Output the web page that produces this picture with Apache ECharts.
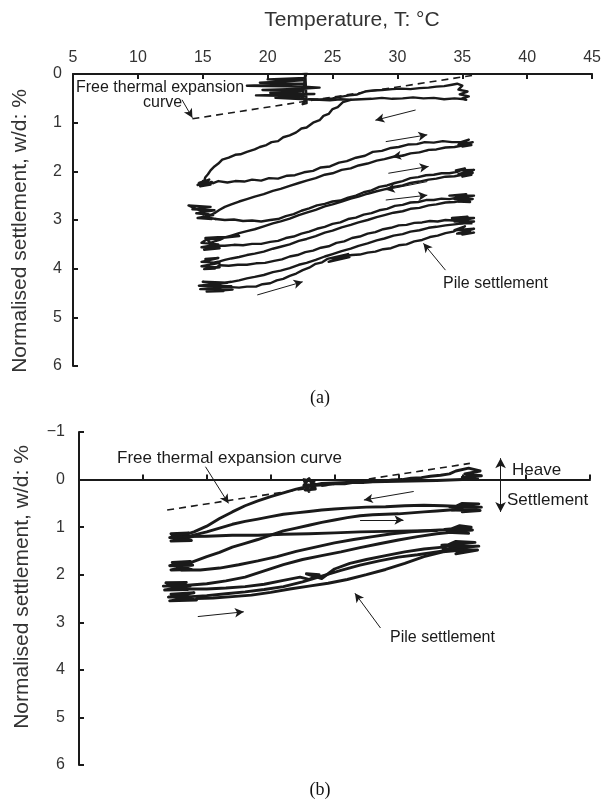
<!DOCTYPE html>
<html>
<head>
<meta charset="utf-8">
<script src="https://cdn.jsdelivr.net/npm/echarts@6/dist/echarts.min.js"></script>
<style>
  html, body { margin: 0; padding: 0; background: #fff; }
  #chart { width: 604px; height: 804px; }
</style>
</head>
<body>
<div id="chart"></div>
<script>
// Temperature axis ticks (°C) and settlement axis ranges (w/d, %)
const tempTicks = [5, 10, 15, 20, 25, 30, 35, 40, 45];
const settleRangeA = [0, 6];
const settleRangeB = [-1, 6];

// ---------- Panel (a): thermal cycles, settlement w/d (%) vs T (°C) ----------
const aStart = [[22.7,-0.06],[23.0,-0.04],[22.9,0.08],[20.0,0.11],[22.7,0.13],[19.4,0.18],[22.9,0.2],[18.4,0.24],[22.8,0.26],[24.0,0.28],[22.8,0.3],[19.6,0.33],[22.6,0.35],[20.2,0.39],[23.6,0.41],[19.1,0.44],[22.8,0.46],[20.6,0.49],[22.9,0.52],[22.7,0.62],[23.0,0.6],[22.9,-0.02],[22.7,0.5],[23.1,0.52]];
const aHeat1 = [[23.2,0.52],[24.0,0.53],[25.0,0.5],[25.6,0.47],[26.3,0.44],[26.9,0.42],[27.5,0.36],[28.1,0.34],[28.8,0.33],[29.6,0.31],[30.3,0.3],[31.0,0.31],[31.7,0.29],[32.4,0.28],[33.0,0.26],[33.6,0.25],[34.2,0.22],[34.6,0.2],[35.0,0.24],[34.7,0.32],[35.4,0.36],[34.8,0.42],[35.5,0.46],[35.0,0.5],[35.3,0.53]];
const aCool1 = [[35.2,0.52],[34.4,0.5],[33.6,0.52],[32.8,0.49],[32.0,0.5],[31.2,0.48],[30.4,0.5],[29.6,0.51],[28.8,0.49],[28.0,0.51],[27.2,0.52],[26.4,0.53],[25.8,0.58],[25.4,0.68],[25.0,0.72],[24.7,0.82],[24.3,0.86],[24.0,0.95],[23.5,1.0],[23.0,1.1],[22.6,1.12],[22.2,1.2],[21.7,1.26],[21.2,1.3],[20.8,1.38],[20.3,1.4],[19.9,1.46],[19.4,1.5],[19.0,1.55],[18.4,1.6],[17.9,1.65],[17.5,1.66],[17.0,1.72],[16.5,1.76],[16.2,1.84],[15.9,1.9],[15.6,1.98],[15.4,2.06],[15.2,2.12],[15.1,2.2],[14.7,2.24],[15.5,2.17],[14.6,2.28],[15.7,2.22],[14.8,2.31],[15.6,2.27],[15.0,2.2],[15.8,2.24]];
const aLink1 = [[26.4,0.53],[25.6,0.52],[24.8,0.54],[24.0,0.53],[23.2,0.52]];
const aHeat2 = [[15.8,2.24],[16.2,2.2],[16.9,2.23],[17.5,2.2],[18.2,2.21],[18.8,2.17],[19.5,2.19],[20.1,2.14],[20.8,2.15],[21.5,2.09],[22.1,2.08],[22.8,2.02],[23.5,1.99],[24.1,1.92],[24.8,1.9],[25.5,1.82],[26.1,1.79],[26.8,1.72],[27.5,1.68],[28.1,1.6],[28.8,1.58],[29.5,1.52],[30.1,1.5],[30.8,1.45],[31.5,1.44],[32.1,1.4],[32.8,1.41],[33.5,1.38],[34.2,1.4],[34.9,1.4],[35.5,1.35],[34.7,1.45],[35.8,1.4],[35.0,1.49],[35.7,1.46],[35.2,1.42]];
const aCool2 = [[35.0,1.47],[34.4,1.5],[33.7,1.51],[33.0,1.55],[32.4,1.56],[31.7,1.61],[31.0,1.63],[30.4,1.68],[29.7,1.7],[29.0,1.75],[28.4,1.78],[27.7,1.84],[27.0,1.88],[26.4,1.94],[25.7,1.97],[25.0,2.04],[24.4,2.07],[23.7,2.14],[23.0,2.19],[22.4,2.24],[21.7,2.3],[21.0,2.36],[20.4,2.4],[19.7,2.47],[19.0,2.52],[18.4,2.57],[17.8,2.62],[17.2,2.68],[16.7,2.73],[16.3,2.79],[15.9,2.86],[15.6,2.9],[15.2,2.86],[13.9,2.7],[15.6,2.73],[14.2,2.78],[15.9,2.8],[14.5,2.86],[15.8,2.9],[14.6,2.96],[15.7,2.98],[15.0,2.93],[16.0,2.98]];
const aHeat3 = [[16,2.98],[16.7,3.0],[17.4,2.99],[18.1,3.02],[18.8,3.01],[19.5,3.03],[20.2,3.0],[20.8,2.98],[21.4,2.92],[22.0,2.88],[22.6,2.81],[23.2,2.76],[23.8,2.7],[24.4,2.67],[25.0,2.62],[25.6,2.6],[26.2,2.54],[26.8,2.5],[27.4,2.43],[28.0,2.39],[28.6,2.32],[29.2,2.29],[29.8,2.24],[30.4,2.2],[31.0,2.14],[31.6,2.12],[32.2,2.08],[32.8,2.07],[33.4,2.04],[34.0,2.04],[34.6,2.01],[35.2,1.94],[34.5,1.98],[35.9,1.97],[34.7,2.06],[35.8,2.03],[35.0,2.11],[35.7,2.07]];
const aCool3 = [[35.0,2.07],[34.4,2.1],[33.7,2.11],[33.0,2.15],[32.4,2.17],[31.7,2.21],[31.0,2.24],[30.4,2.29],[29.7,2.32],[29.0,2.37],[28.4,2.41],[27.7,2.46],[27.0,2.52],[26.4,2.56],[25.7,2.62],[25.0,2.68],[24.4,2.72],[23.7,2.79],[23.0,2.85],[22.4,2.9],[21.7,2.97],[21.0,3.03],[20.4,3.07],[19.7,3.13],[19.0,3.19],[18.4,3.23],[17.8,3.27],[17.2,3.32],[16.7,3.36],[16.3,3.41],[15.9,3.44],[15.6,3.47],[15.2,3.37],[17.8,3.33],[15.3,3.4],[14.9,3.47],[16.2,3.5],[14.9,3.56],[16.3,3.58],[15.1,3.61],[16.0,3.53]];
const aHeat4 = [[16,3.53],[16.7,3.53],[17.4,3.51],[18.1,3.52],[18.8,3.49],[19.5,3.49],[20.2,3.45],[20.8,3.43],[21.4,3.37],[22.0,3.34],[22.6,3.28],[23.2,3.24],[23.8,3.18],[24.4,3.14],[25.0,3.08],[25.6,3.05],[26.2,2.98],[26.8,2.95],[27.4,2.89],[28.0,2.86],[28.6,2.8],[29.2,2.77],[29.8,2.71],[30.4,2.69],[31.0,2.64],[31.6,2.63],[32.2,2.59],[32.8,2.59],[33.4,2.56],[34.0,2.57],[34.6,2.54],[35.3,2.47],[34.0,2.5],[35.9,2.5],[34.4,2.57],[35.8,2.57],[34.7,2.62],[35.6,2.63],[35.0,2.57]];
const aCool4 = [[35.0,2.6],[34.4,2.63],[33.7,2.64],[33.0,2.68],[32.4,2.7],[31.7,2.75],[31.0,2.77],[30.4,2.82],[29.7,2.85],[29.0,2.9],[28.4,2.94],[27.7,3.0],[27.0,3.05],[26.4,3.1],[25.7,3.15],[25.0,3.22],[24.4,3.26],[23.7,3.33],[23.0,3.39],[22.4,3.43],[21.7,3.5],[21.0,3.55],[20.4,3.59],[19.7,3.65],[19.0,3.69],[18.4,3.72],[17.8,3.76],[17.2,3.79],[16.7,3.82],[16.3,3.85],[15.9,3.87],[15.6,3.88],[15.2,3.8],[16.2,3.78],[14.9,3.86],[16.3,3.88],[14.9,3.95],[16.3,3.97],[15.1,4.01],[15.9,4.0],[16.3,3.93]];
const aHeat5 = [[16.3,3.93],[17.0,3.94],[17.7,3.92],[18.4,3.92],[19.1,3.89],[19.8,3.88],[20.5,3.84],[21.1,3.81],[21.7,3.75],[22.3,3.72],[22.9,3.66],[23.5,3.63],[24.1,3.57],[24.7,3.54],[25.3,3.47],[25.9,3.44],[26.5,3.37],[27.1,3.34],[27.7,3.28],[28.3,3.25],[28.9,3.19],[29.5,3.16],[30.1,3.11],[30.7,3.1],[31.3,3.06],[31.9,3.05],[32.5,3.02],[33.1,3.03],[33.7,3.0],[34.3,3.01],[35.4,2.93],[34.2,2.96],[35.9,2.96],[34.4,3.03],[35.9,3.03],[34.8,3.07],[35.7,3.07]];
const aCool5 = [[35.0,3.07],[34.4,3.09],[33.7,3.11],[33.0,3.14],[32.4,3.16],[31.7,3.21],[31.0,3.24],[30.4,3.29],[29.7,3.32],[29.0,3.38],[28.4,3.42],[27.7,3.48],[27.0,3.53],[26.4,3.59],[25.7,3.64],[25.0,3.7],[24.4,3.75],[23.7,3.82],[23.0,3.88],[22.4,3.92],[21.7,3.99],[21.0,4.04],[20.4,4.07],[19.7,4.13],[19.0,4.17],[18.4,4.2],[17.8,4.24],[17.2,4.27],[16.7,4.29],[16.2,4.32],[15.0,4.27],[16.9,4.29],[14.7,4.35],[17.2,4.36],[14.8,4.42],[17.3,4.43],[15.3,4.47],[16.6,4.46],[15.6,4.38],[17.2,4.38]];
const aHeat6 = [[17.2,4.38],[17.8,4.39],[18.4,4.37],[19.1,4.37],[19.6,4.32],[20.2,4.3],[20.7,4.24],[21.2,4.21],[21.7,4.15],[22.2,4.1],[22.7,4.03],[23.2,3.98],[23.7,3.9],[24.2,3.87],[24.6,3.8],[26.2,3.7],[24.7,3.86],[26.3,3.76],[25.0,3.78],[26.5,3.72],[27.1,3.71],[27.7,3.67],[28.3,3.65],[28.9,3.6],[29.5,3.58],[30.1,3.52],[30.7,3.5],[31.3,3.44],[31.9,3.41],[32.5,3.35],[33.1,3.32],[33.7,3.27],[34.3,3.24],[35.2,3.13],[34.4,3.21],[35.9,3.18],[34.6,3.28],[35.9,3.26],[35.0,3.3],[35.6,3.22]];
const aCycles = [aStart, aHeat1, aCool1, aLink1, aHeat2, aCool2, aHeat3, aCool3, aHeat4, aCool4, aHeat5, aCool5, aHeat6];

// free thermal expansion line (a)
const aFreeExp = [[14.2, 0.92], [36.0, 0.02]];
// direction arrows (a): [from, to]
const aArrows = [
  [[31.4, 0.74], [28.3, 0.95]],
  [[29.1, 1.39], [32.3, 1.25]],
  [[32.7, 1.56], [29.6, 1.70]],
  [[29.3, 2.04], [32.4, 1.90]],
  [[32.3, 2.21], [29.1, 2.38]],
  [[29.1, 2.59], [32.3, 2.49]],
  [[19.2, 4.54], [22.7, 4.27]]
];
const aPointers = [
  [[13.4, 0.53], [14.2, 0.90]],
  [[33.7, 4.03], [32.0, 3.48]]
];

// ---------- Panel (b) ----------
const bStart = [[23.0,0.25],[22.6,0.0],[23.4,0.04],[22.7,0.22],[23.5,0.2],[23.0,-0.02],[22.6,0.12],[23.5,0.1],[23.3,0.14]];
const bHeat1 = [[23.5,0.12],[24.3,0.11],[25,0.09],[25.8,0.09],[26.5,0.06],[27.3,0.06],[28,0.04],[28.8,0.04],[29.5,0.01],[30.3,0.0],[31,-0.03],[31.8,-0.04],[32.5,-0.07],[33.3,-0.09],[34,-0.12],[34.5,-0.18],[35.5,-0.24],[36.4,-0.18],[35.2,-0.12],[36.5,-0.08],[35.0,-0.05],[36.2,-0.02],[35,0.0]];
const bCool1 = [[35,0.0],[33,0.02],[31,0.03],[29,0.04],[27,0.05],[25,0.07],[24,0.08],[23,0.14],[22,0.2],[21,0.28],[20,0.36],[19,0.45],[18,0.55],[17,0.68],[16,0.82],[15,0.98],[14,1.1],[13.2,1.17],[12.5,1.21],[12.2,1.14],[13.6,1.12],[12.1,1.22],[13.9,1.2],[12.2,1.29],[13.8,1.28],[12.6,1.22]];
const bHeat2 = [[12.8,1.22],[13.8,1.18],[15,1.1],[16,1.02],[17,0.94],[18,0.88],[19,0.83],[20,0.78],[21,0.73],[22,0.7],[23,0.67],[24,0.64],[25,0.62],[26,0.6],[27.5,0.58],[29,0.57],[30.5,0.55],[32,0.54],[33.5,0.55],[34.5,0.56],[35,0.5],[36.3,0.51],[34.0,0.57],[36.5,0.58],[34.2,0.64],[36.4,0.65],[35,0.68],[35.8,0.6]];
const bFlat = [[13.2,1.2],[15,1.19],[17,1.17],[19,1.17],[21,1.15],[23,1.14],[25,1.12],[27,1.1],[29,1.09],[31,1.08],[33,1.07]];
const bCool2 = [[35,0.62],[34,0.64],[33,0.66],[32,0.68],[31,0.7],[30,0.72],[29,0.73],[28,0.74],[27,0.76],[26,0.8],[25,0.85],[24,0.9],[23,0.96],[22,1.02],[21,1.08],[20,1.17],[19,1.26],[18,1.34],[17,1.42],[16,1.53],[15,1.62],[14,1.72],[13.2,1.8],[12.3,1.74],[13.7,1.72],[12.1,1.81],[13.9,1.8],[12.2,1.9],[13.8,1.89],[12.7,1.84]];
const bHeat3 = [[13,1.9],[14.5,1.9],[16,1.86],[17.5,1.79],[19,1.71],[20.5,1.62],[22,1.51],[23.5,1.42],[25,1.33],[26.5,1.26],[28,1.2],[29.5,1.14],[31,1.1],[32.5,1.07],[34,1.05],[34.8,0.97],[35.7,1.0],[33.6,1.05],[35.8,1.06],[33.8,1.11],[35.5,1.13],[34.6,1.06]];
const bCool3 = [[34.5,1.1],[33,1.14],[31.5,1.2],[30,1.27],[28.5,1.35],[27,1.43],[25.5,1.52],[24,1.6],[22.5,1.68],[21,1.79],[19.5,1.92],[18,2.05],[16.5,2.13],[15,2.19],[13.5,2.22],[12.3,2.24],[11.8,2.17],[13.4,2.16],[11.6,2.24],[13.7,2.24],[11.7,2.32],[13.5,2.31],[12.4,2.25]];
const bHeat4 = [[13.5,2.3],[15,2.3],[16.5,2.28],[18,2.25],[19.5,2.2],[21,2.12],[22.3,2.05],[23,2.1],[23.8,2.0],[22.8,1.98],[24,2.08],[25,1.88],[26.2,1.76],[27.5,1.68],[29,1.6],[30.5,1.52],[32,1.46],[33.5,1.42],[34.5,1.3],[36.0,1.32],[33.4,1.38],[36.3,1.4],[33.5,1.46],[36.2,1.48],[34.5,1.56],[35.5,1.42]];
const bCool4 = [[34.5,1.46],[33,1.52],[31.5,1.58],[30,1.63],[28.5,1.71],[27,1.8],[25.5,1.91],[24,2.03],[22.5,2.15],[21,2.25],[19.5,2.31],[18,2.36],[16.5,2.4],[15,2.44],[13.8,2.46],[12.2,2.41],[14,2.38],[12.0,2.47],[14.2,2.46],[12.1,2.55],[14.2,2.53],[12.8,2.48]];
const bHeat5 = [[14.2,2.5],[15.5,2.49],[17,2.46],[18.5,2.43],[20,2.37],[21.5,2.3],[23,2.24],[24.5,2.18],[26,2.1],[27.5,2.0],[29,1.89],[30.5,1.76],[32,1.62],[33.5,1.52],[35,1.48]];
const bCycles = [bStart, bHeat1, bCool1, bHeat2, bFlat, bCool2, bHeat3, bCool3, bHeat4, bCool4, bHeat5];

const bFreeExp = [[11.9, 0.64], [35.6, -0.34]];
const bArrows = [
  [[31.2, 0.25], [27.3, 0.43]],
  [[27.0, 0.85], [30.4, 0.85]],
  [[14.3, 2.88], [17.9, 2.78]]
];
const bPointers = [
  [[14.9, -0.27], [16.7, 0.50]],
  [[28.6, 3.12], [26.6, 2.39]]
];
const heaveSettleArrow = [[38.0, -0.45], [38.0, 0.68]];

// ---------- Chart ----------
const FONT = 'Liberation Sans, Arial, sans-serif';
const INK = '#1a1a1a';

function arrowLines(list) {
  return list.map(([p, q]) => [
    { coord: p, symbol: 'none' },
    { coord: q, symbol: 'arrow', symbolSize: [7, 9] }
  ]);
}

function cycleSeries(list, gridIdx, width) {
  return list.map(d => ({
    type: 'line', xAxisIndex: gridIdx, yAxisIndex: gridIdx,
    data: d, showSymbol: false, silent: true, animation: false,
    lineStyle: { color: INK, width: width, join: 'round', cap: 'round' },
    z: 3
  }));
}

function freeSeries(data, gridIdx, arrows, pointers, extra) {
  const ml = arrowLines(arrows).concat(arrowLines(pointers));
  if (extra) ml.push(...extra);
  return {
    type: 'line', xAxisIndex: gridIdx, yAxisIndex: gridIdx,
    data: data, showSymbol: false, silent: true, animation: false,
    lineStyle: { color: INK, width: 1.6, type: [7, 5] },
    markLine: {
      silent: true, animation: false, symbol: ['none', 'arrow'],
      label: { show: false },
      lineStyle: { color: INK, width: 1, type: 'solid' },
      emphasis: { disabled: true },
      data: ml
    },
    z: 2
  };
}

const axisLineStyle = { color: INK, width: 2 };
const tickStyle = { color: INK, width: 2 };
const labelStyle = { color: '#333', fontFamily: FONT, fontSize: 16 };

const option = {
  backgroundColor: '#fff',
  animation: false,
  grid: [
    { left: 73, top: 74, width: 521, height: 292 },
    { left: 79, top: 432, width: 511, height: 333 }
  ],
  xAxis: [
    {
      gridIndex: 0, type: 'value', position: 'top', min: tempTicks[0], max: tempTicks[tempTicks.length - 1], interval: 5,
      axisLine: { show: true, onZero: false, lineStyle: axisLineStyle },
      axisTick: { show: true, inside: true, length: 5, lineStyle: tickStyle },
      axisLabel: Object.assign({ margin: 8 }, labelStyle),
      splitLine: { show: false }
    },
    {
      gridIndex: 1, type: 'value', position: 'bottom', min: tempTicks[0], max: tempTicks[tempTicks.length - 1], interval: 5,
      axisLine: { show: true, onZero: true, lineStyle: axisLineStyle },
      axisTick: { show: true, inside: true, length: 5, lineStyle: tickStyle },
      axisLabel: { show: false },
      splitLine: { show: false }
    }
  ],
  yAxis: [
    {
      gridIndex: 0, type: 'value', inverse: true, min: settleRangeA[0], max: settleRangeA[1], interval: 1,
      axisLine: { show: true, lineStyle: axisLineStyle },
      axisTick: { show: true, inside: true, length: 5, lineStyle: tickStyle },
      axisLabel: Object.assign({ margin: 11 }, labelStyle),
      splitLine: { show: false }
    },
    {
      gridIndex: 1, type: 'value', inverse: true, min: settleRangeB[0], max: settleRangeB[1], interval: 1,
      axisLine: { show: true, onZero: false, lineStyle: axisLineStyle },
      axisTick: { show: true, inside: true, length: 5, lineStyle: tickStyle },
      axisLabel: Object.assign({ margin: 14, formatter: v => (v < 0 ? '\u2212' + Math.abs(v) : String(v)) }, labelStyle),
      splitLine: { show: false }
    }
  ],
  series: [
    freeSeries(aFreeExp, 0, aArrows, aPointers),
    freeSeries(bFreeExp, 1, bArrows, bPointers, [[
      { coord: heaveSettleArrow[0], symbol: 'arrow', symbolSize: [8, 10] },
      { coord: heaveSettleArrow[1], symbol: 'arrow', symbolSize: [8, 10] }
    ]])
  ].concat(cycleSeries(aCycles, 0, 2.4), cycleSeries(bCycles, 1, 2.9)),
  graphic: [
    { type: 'text', x: 352, y: 20, silent: true,
      style: { text: 'Temperature, T: °C', font: '21px ' + FONT, fill: '#333', textAlign: 'center', textVerticalAlign: 'middle' } },
    { type: 'text', x: 20, y: 231, rotation: Math.PI / 2, silent: true,
      style: { text: 'Normalised settlement, w/d: %', font: '21px ' + FONT, fill: '#333', textAlign: 'center', textVerticalAlign: 'middle' } },
    { type: 'text', x: 22, y: 587, rotation: Math.PI / 2, silent: true,
      style: { text: 'Normalised settlement, w/d: %', font: '21px ' + FONT, fill: '#333', textAlign: 'center', textVerticalAlign: 'middle' } },
    { type: 'text', x: 76, y: 88, silent: true,
      style: { text: 'Free thermal expansion', font: '16px ' + FONT, fill: INK, textAlign: 'left', textVerticalAlign: 'middle' } },
    { type: 'text', x: 143, y: 103, silent: true,
      style: { text: 'curve', font: '16px ' + FONT, fill: INK, textAlign: 'left', textVerticalAlign: 'middle' } },
    { type: 'text', x: 443, y: 284, silent: true,
      style: { text: 'Pile settlement', font: '16px ' + FONT, fill: INK, textAlign: 'left', textVerticalAlign: 'middle' } },
    { type: 'text', x: 320, y: 398, silent: true,
      style: { text: '(a)', font: '18px Liberation Serif, Times New Roman, serif', fill: '#111', textAlign: 'center', textVerticalAlign: 'middle' } },
    { type: 'text', x: 117, y: 458, silent: true,
      style: { text: 'Free thermal expansion curve', font: '17px ' + FONT, fill: INK, textAlign: 'left', textVerticalAlign: 'middle' } },
    { type: 'text', x: 512, y: 470, silent: true,
      style: { text: 'Heave', font: '17px ' + FONT, fill: INK, textAlign: 'left', textVerticalAlign: 'middle' } },
    { type: 'text', x: 507, y: 500, silent: true,
      style: { text: 'Settlement', font: '17px ' + FONT, fill: INK, textAlign: 'left', textVerticalAlign: 'middle' } },
    { type: 'text', x: 390, y: 638, silent: true,
      style: { text: 'Pile settlement', font: '16px ' + FONT, fill: INK, textAlign: 'left', textVerticalAlign: 'middle' } },
    { type: 'text', x: 320, y: 790, silent: true,
      style: { text: '(b)', font: '18px Liberation Serif, Times New Roman, serif', fill: '#111', textAlign: 'center', textVerticalAlign: 'middle' } }
  ]
};

const chart = echarts.init(document.getElementById('chart'), null, { renderer: 'canvas' });
chart.setOption(option);
</script>
</body>
</html>
